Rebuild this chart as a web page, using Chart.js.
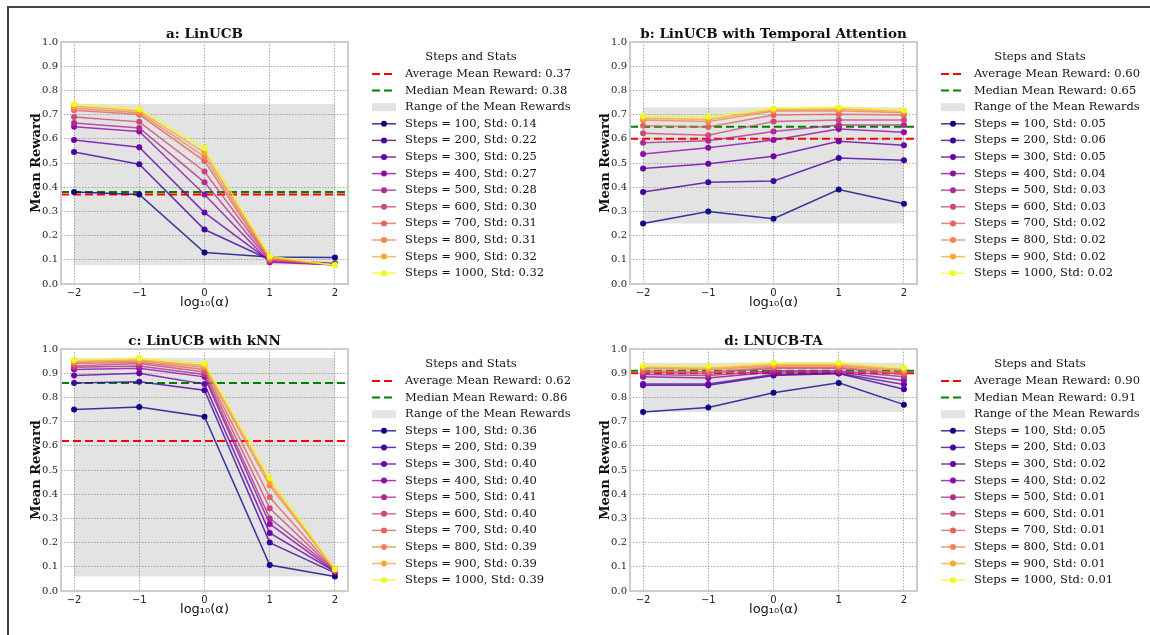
<!DOCTYPE html>
<html>
<head>
<meta charset="utf-8">
<title>Mean Reward vs log10(alpha)</title>
<script src="https://cdn.jsdelivr.net/npm/chart.js@4.4.1/dist/chart.umd.min.js"></script>
<style>
  html, body { margin: 0; padding: 0; background: #fff; overflow: hidden; }
  #page { position: relative; width: 1150px; height: 635px; overflow: hidden; }
  #frame { position: absolute; left: 7px; top: 6px; width: 1300px; height: 800px;
           border-left: 2px solid #444; border-top: 2px solid #444; }
  canvas { position: absolute; }
</style>
</head>
<body>
<div id="page">
  <div id="frame"></div>
  <canvas id="panelA" width="581" height="317" style="left:0;top:0"></canvas>
  <canvas id="panelB" width="581" height="317" style="left:569px;top:0"></canvas>
  <canvas id="panelC" width="581" height="317" style="left:0;top:307px"></canvas>
  <canvas id="panelD" width="581" height="317" style="left:569px;top:307px"></canvas>
</div>
<script>
// x positions (log10 alpha) and the step counts of each curve
const alphaLogs = [-2, -1, 0, 1, 2];
const stepCounts = [100, 200, 300, 400, 500, 600, 700, 800, 900, 1000];
// plasma colormap, 10 samples
const stepColors = ['#0d0887', '#41049d', '#6a00a8', '#8f0da4', '#b12a90',
                    '#cc4778', '#e16462', '#f2844b', '#fca636', '#f0f921'];

// a: LinUCB
const linucbRewards = [
    [0.380, 0.370, 0.130, 0.112, 0.110],
    [0.545, 0.495, 0.225, 0.100, 0.085],
    [0.595, 0.565, 0.295, 0.095, 0.080],
    [0.650, 0.630, 0.370, 0.090, 0.080],
    [0.665, 0.645, 0.420, 0.095, 0.080],
    [0.690, 0.670, 0.465, 0.100, 0.080],
    [0.718, 0.700, 0.508, 0.100, 0.080],
    [0.726, 0.708, 0.526, 0.105, 0.080],
    [0.734, 0.715, 0.543, 0.110, 0.078],
    [0.744, 0.722, 0.562, 0.115, 0.077]
];
const linucbStd = [0.14, 0.22, 0.25, 0.27, 0.28, 0.30, 0.31, 0.31, 0.32, 0.32];
const linucbAverage = 0.37;
const linucbMedian = 0.38;

// b: LinUCB with Temporal Attention
const temporalRewards = [
    [0.250, 0.300, 0.270, 0.390, 0.332],
    [0.380, 0.420, 0.426, 0.521, 0.511],
    [0.477, 0.497, 0.528, 0.590, 0.573],
    [0.537, 0.563, 0.595, 0.640, 0.627],
    [0.584, 0.592, 0.630, 0.657, 0.657],
    [0.623, 0.615, 0.672, 0.678, 0.678],
    [0.654, 0.649, 0.698, 0.701, 0.698],
    [0.678, 0.671, 0.715, 0.716, 0.708],
    [0.685, 0.680, 0.720, 0.723, 0.714],
    [0.693, 0.691, 0.725, 0.730, 0.718]
];
const temporalStd = [0.05, 0.06, 0.05, 0.04, 0.03, 0.03, 0.02, 0.02, 0.02, 0.02];
const temporalAverage = 0.60;
const temporalMedian = 0.65;

// c: LinUCB with kNN
const knnRewards = [
    [0.750, 0.760, 0.720, 0.107, 0.060],
    [0.860, 0.865, 0.830, 0.200, 0.075],
    [0.890, 0.900, 0.855, 0.240, 0.080],
    [0.915, 0.920, 0.885, 0.277, 0.080],
    [0.925, 0.930, 0.895, 0.300, 0.085],
    [0.930, 0.940, 0.905, 0.342, 0.085],
    [0.940, 0.945, 0.915, 0.387, 0.085],
    [0.945, 0.950, 0.925, 0.436, 0.090],
    [0.950, 0.955, 0.932, 0.449, 0.090],
    [0.955, 0.963, 0.940, 0.468, 0.090]
];
const knnStd = [0.36, 0.39, 0.40, 0.40, 0.41, 0.40, 0.40, 0.39, 0.39, 0.39];
const knnAverage = 0.62;
const knnMedian = 0.86;

// d: LNUCB-TA
const lnucbRewards = [
    [0.740, 0.758, 0.819, 0.860, 0.770],
    [0.850, 0.850, 0.890, 0.899, 0.834],
    [0.855, 0.855, 0.895, 0.900, 0.853],
    [0.885, 0.880, 0.905, 0.905, 0.870],
    [0.895, 0.890, 0.910, 0.910, 0.885],
    [0.905, 0.900, 0.920, 0.920, 0.895],
    [0.910, 0.905, 0.925, 0.925, 0.900],
    [0.920, 0.915, 0.930, 0.930, 0.910],
    [0.925, 0.920, 0.935, 0.935, 0.915],
    [0.931, 0.930, 0.943, 0.943, 0.924]
];
const lnucbStd = [0.05, 0.03, 0.02, 0.02, 0.01, 0.01, 0.01, 0.01, 0.01, 0.01];
const lnucbAverage = 0.90;
const lnucbMedian = 0.91;

const serif = '"DejaVu Serif", serif';
const sans = '"DejaVu Sans", sans-serif';

function withAlpha(hex, a) {
    const n = parseInt(hex.slice(1), 16);
    return `rgba(${(n >> 16) & 255},${(n >> 8) & 255},${n & 255},${a})`;
}

/**
 * Cadre gris, titre du panneau et légende "Steps and Stats" à droite
 */
const panelDecor = {
    id: 'panelDecor',
    afterDraw(chart, args, opts) {
        const { ctx, chartArea: a } = chart;
        ctx.save();
        ctx.strokeStyle = '#cccccc';
        ctx.lineWidth = 2;
        ctx.strokeRect(a.left, a.top, a.right - a.left, a.bottom - a.top);

        ctx.fillStyle = '#111';
        ctx.font = `bold 13.5px ${serif}`;
        ctx.textAlign = 'center';
        ctx.textBaseline = 'alphabetic';
        ctx.fillText(opts.title, (a.left + a.right) / 2, a.top - 4);

        // legend
        const x0 = a.right + 24, x1 = x0 + 24, tx = a.right + 57;
        let y = a.top + 15;
        ctx.font = `11.5px ${serif}`;
        ctx.textBaseline = 'middle';
        ctx.fillText('Steps and Stats', a.right + 123, y);
        ctx.textAlign = 'left';
        y += 17;
        chart.data.datasets.forEach(ds => {
            if (!ds.legendKind) return;
            if (ds.legendKind === 'range') {
                ctx.fillStyle = ds.backgroundColor;
                ctx.fillRect(x0, y - 4, x1 - x0, 8);
            } else {
                ctx.strokeStyle = ds.borderColor;
                ctx.lineWidth = ds.borderWidth;
                ctx.setLineDash(ds.borderDash || []);
                ctx.beginPath();
                ctx.moveTo(x0, y);
                ctx.lineTo(x1, y);
                ctx.stroke();
                ctx.setLineDash([]);
                if (ds.legendKind === 'line') {
                    ctx.fillStyle = ds.pointBackgroundColor;
                    ctx.beginPath();
                    ctx.arc((x0 + x1) / 2, y, 3, 0, Math.PI * 2);
                    ctx.fill();
                }
            }
            ctx.fillStyle = '#111';
            ctx.fillText(ds.label, tx, y);
            y += 16.6;
        });
        ctx.restore();
    }
};

function buildPanel(canvasId, title, rewards, stds, average, median) {
    const canvas = document.getElementById(canvasId);
    const flat = rewards.flat();
    const lo = Math.min(...flat), hi = Math.max(...flat);

    const datasets = [
        {
            label: `Average Mean Reward: ${average.toFixed(2)}`, legendKind: 'dash',
            data: [{ x: -2.2, y: average }, { x: 2.2, y: average }],
            borderColor: '#ff0000', borderDash: [8, 4], borderWidth: 2, pointRadius: 0, order: 20
        },
        {
            label: `Median Mean Reward: ${median.toFixed(2)}`, legendKind: 'dash',
            data: [{ x: -2.2, y: median }, { x: 2.2, y: median }],
            borderColor: '#008000', borderDash: [8, 4], borderWidth: 2, pointRadius: 0, order: 20
        },
        {
            label: 'Range of the Mean Rewards', legendKind: 'range',
            data: [{ x: alphaLogs[0], y: hi }, { x: alphaLogs[alphaLogs.length - 1], y: hi }],
            fill: { value: lo }, backgroundColor: 'rgba(128,128,128,0.22)',
            borderWidth: 0, borderColor: 'rgba(0,0,0,0)', pointRadius: 0, order: 30
        }
    ];
    stepCounts.forEach((steps, i) => {
        datasets.push({
            label: `Steps = ${steps}, Std: ${stds[i].toFixed(2)}`, legendKind: 'line',
            data: alphaLogs.map((x, j) => ({ x, y: rewards[i][j] })),
            borderColor: withAlpha(stepColors[i], 0.8),
            pointBackgroundColor: stepColors[i],
            pointBorderColor: stepColors[i],
            borderWidth: 1.5, pointRadius: 3, pointBorderWidth: 0,
            order: 10 - i
        });
    });

    const gridStyle = { color: 'rgba(60,60,60,0.55)', lineWidth: 0.8, drawTicks: false };
    const borderStyle = { display: false, dash: [1.5, 1.5] };

    return new Chart(canvas, {
        type: 'line',
        data: { datasets },
        options: {
            responsive: false,
            animation: false,
            devicePixelRatio: 1,
            layout: { padding: { left: 28, top: 42, right: canvas.width - 348, bottom: 7 } },
            elements: { line: { tension: 0 } },
            plugins: {
                legend: { display: false },
                tooltip: { enabled: false },
                filler: { drawTime: 'beforeDatasetDraw' },
                panelDecor: { title }
            },
            scales: {
                x: {
                    type: 'linear', min: -2.2, max: 2.2,
                    afterBuildTicks: s => { s.ticks = alphaLogs.map(v => ({ value: v })); },
                    afterFit: s => { s.height = 26; },
                    grid: gridStyle, border: borderStyle,
                    ticks: {
                        padding: 3, color: '#222', font: { family: sans, size: 10 },
                        callback: v => v < 0 ? '\u2212' + Math.abs(v) : String(v)
                    },
                    title: {
                        display: true, text: 'log\u2081\u2080(\u03b1)', color: '#111', padding: 0,
                        font: { family: sans, size: 13, lineHeight: 1.2 }
                    }
                },
                y: {
                    min: 0, max: 1,
                    afterFit: s => { s.width = 33; },
                    grid: gridStyle, border: borderStyle,
                    ticks: {
                        stepSize: 0.1, padding: 3, color: '#222', font: { family: serif, size: 10 },
                        callback: v => v.toFixed(1)
                    },
                    title: {
                        display: true, text: 'Mean Reward', color: '#111', padding: { top: 1 },
                        font: { family: serif, size: 13, weight: 'bold', lineHeight: 1.2 }
                    }
                }
            }
        },
        plugins: [panelDecor]
    });
}

buildPanel('panelA', 'a: LinUCB', linucbRewards, linucbStd, linucbAverage, linucbMedian);
buildPanel('panelB', 'b: LinUCB with Temporal Attention', temporalRewards, temporalStd, temporalAverage, temporalMedian);
buildPanel('panelC', 'c: LinUCB with kNN', knnRewards, knnStd, knnAverage, knnMedian);
buildPanel('panelD', 'd: LNUCB-TA', lnucbRewards, lnucbStd, lnucbAverage, lnucbMedian);
</script>
</body>
</html>
